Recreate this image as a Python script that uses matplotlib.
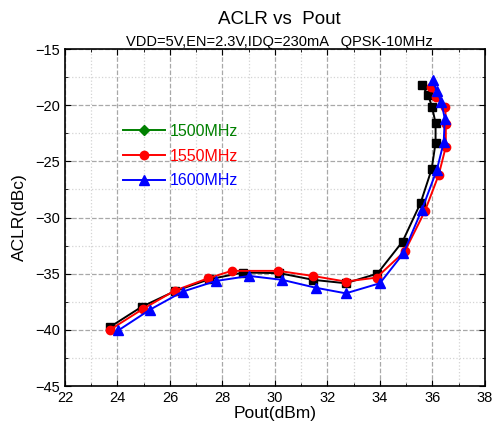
import matplotlib
matplotlib.use('Agg')
import matplotlib.pyplot as plt
from matplotlib.lines import Line2D
from matplotlib.ticker import MultipleLocator

plt.rcParams['font.family'] = ['Liberation Sans', 'DejaVu Sans']

# 1500MHz (drawn black in the original, legend shows green)
pout_1500 = [23.71, 24.92, 26.19, 27.49, 28.79, 30.16, 31.46, 32.69, 33.90,
             34.86, 35.55, 35.97, 36.12, 36.12, 35.99, 35.84, 35.59]
aclr_1500 = [-39.75, -37.95, -36.55, -35.5, -34.9, -34.95, -35.55, -35.85, -35.0,
             -32.15, -28.7, -25.7, -23.35, -21.6, -20.2, -19.1, -18.2]

pout_1550 = [23.71, 24.96, 26.19, 27.46, 28.35, 30.13, 31.44, 32.69, 33.87,
             34.95, 35.71, 36.24, 36.51, 36.51, 36.49, 36.13, 35.95]
aclr_1550 = [-40.0, -38.15, -36.5, -35.4, -34.75, -34.75, -35.2, -35.7, -35.35,
             -33.0, -29.45, -26.2, -23.7, -21.7, -20.15, -19.25, -18.4]

pout_1600 = [24.03, 25.24, 26.48, 27.75, 29.02, 30.28, 31.55, 32.70, 34.0,
             34.89, 35.59, 36.17, 36.43, 36.47, 36.34, 36.17, 36.01]
aclr_1600 = [-40.05, -38.2, -36.6, -35.65, -35.2, -35.55, -36.25, -36.75, -35.85,
             -33.2, -29.35, -25.75, -23.3, -21.2, -19.7, -18.75, -17.8]

fig = plt.figure(figsize=(4.94, 4.3), dpi=100)
ax = fig.add_axes([0.1316, 0.1023, 0.850, 0.7837])

ax.plot(pout_1500, aclr_1500, c='black', marker='s', ms=5.5, lw=1.4)
ax.plot(pout_1550, aclr_1550, c='red', marker='o', ms=6, lw=1.4)
ax.plot(pout_1600, aclr_1600, c='blue', marker='^', ms=6.5, lw=1.4)

ax.set_xlim(22, 38)
ax.set_ylim(-45, -15)
ax.xaxis.set_major_locator(MultipleLocator(2))
ax.xaxis.set_minor_locator(MultipleLocator(1))
ax.yaxis.set_major_locator(MultipleLocator(5))
ax.yaxis.set_minor_locator(MultipleLocator(2.5))
ax.grid(which='major', color='#a8a8a8', linestyle='--', lw=0.9)
ax.grid(which='minor', color='#d4d4d4', linestyle=':', lw=0.9)
ax.tick_params(which='both', direction='in', top=True, right=True, labelsize=10.5)
ax.tick_params(which='major', length=4)
ax.tick_params(which='minor', length=2)
for s in ax.spines.values():
    s.set_linewidth(1.2)

ax.set_xlabel('Pout(dBm)', fontsize=12.5, labelpad=1)
ax.set_ylabel('ACLR(dBc)', fontsize=12.5, labelpad=6)
fig.text(0.565, 0.955, 'ACLR vs  Pout', ha='center', va='center', fontsize=13.5)
fig.text(0.565, 0.902, 'VDD=5V,EN=2.3V,IDQ=230mA   QPSK-10MHz', ha='center', va='center', fontsize=10.5)

handles = [
    Line2D([], [], color='green', marker='D', ms=5, lw=1.4),
    Line2D([], [], color='red', marker='o', ms=6, lw=1.4),
    Line2D([], [], color='blue', marker='^', ms=6.5, lw=1.4),
]
ax.legend(handles, ['1500MHz', '1550MHz', '1600MHz'], loc='upper left',
          bbox_to_anchor=(0.105, 0.82), frameon=False, fontsize=11.5,
          labelcolor=['green', 'red', 'blue'], handlelength=2.6,
          handletextpad=0.3, labelspacing=0.6)

fig.savefig('out.png')
